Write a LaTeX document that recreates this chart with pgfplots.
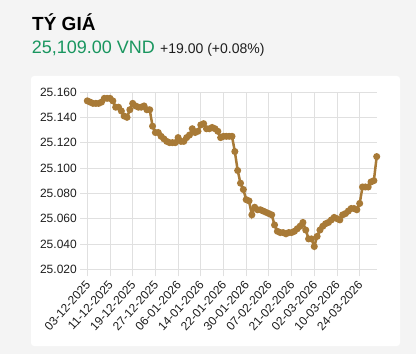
\documentclass[border=0pt]{standalone}
\usepackage{pgfplots}
\pgfplotsset{compat=1.18}
\usepackage{fontspec}
\setmainfont{Liberation Sans}
\definecolor{bgc}{RGB}{244,244,244}
\definecolor{linec}{RGB}{168,122,55}
\definecolor{greenc}{RGB}{25,150,95}
\definecolor{gridc}{RGB}{224,224,224}
\definecolor{txtc}{RGB}{30,30,30}
\begin{document}
\begin{tikzpicture}[x=1bp,y=1bp]
\fill[bgc] (0,0) rectangle (416,354);
\fill[white,rounded corners=3bp] (31,8) rectangle (400,278);
\node[anchor=base west,inner sep=0pt,font=\fontsize{19bp}{22bp}\selectfont\bfseries] at (32,323.3) {TÝ GIÁ};
\node[anchor=base west,inner sep=0pt,text=greenc,font=\fontsize{18bp}{21bp}\selectfont] at (31.7,300.7) {25,109.00 VND};
\node[anchor=base west,inner sep=0pt,text=txtc,font=\fontsize{14bp}{17bp}\selectfont] at (160,300.7) {+19.00 (+0.08\%)};
\begin{axis}[
  at={(87.3bp,84.7bp)}, anchor=south west,
  scale only axis, width=289.4bp, height=177.3bp,
  xmin=0, xmax=102, ymin=25.02, ymax=25.16,
  axis line style={draw=none},
  axis x line*=bottom, axis y line*=left,
  grid=major, grid style={gridc, line width=0.8bp},
  tick align=outside, major tick length=7bp,
  tick style={gridc, line width=0.8bp},
  xtick={0,8,...,96},
  xticklabels={03-12-2025,11-12-2025,19-12-2025,27-12-2025,06-01-2026,14-01-2026,22-01-2026,30-01-2026,07-02-2026,21-02-2026,02-03-2026,10-03-2026,24-03-2026},
  ytick={25.02,25.04,25.06,25.08,25.10,25.12,25.14,25.16},
  yticklabels={25.020,25.040,25.060,25.080,25.100,25.120,25.140,25.160},
  ticklabel style={font=\fontsize{12bp}{14bp}\selectfont, text=txtc},
  xticklabel style={xshift=3bp, yshift=-4bp, rotate=48, anchor=east},
  clip=false,
]
\draw[gridc, line width=0.8bp] (axis cs:0,25.02) -- (axis cs:102,25.02);
\draw[gridc, line width=0.8bp] (axis cs:0,25.02) -- (axis cs:0,25.16);
\addplot[linec, line width=2.5bp, mark=*, mark size=2.2bp, mark options={fill=linec, draw=linec}] table {
x y
0 25.153
1 25.152
2 25.151
3 25.151
4 25.151
5 25.152
6 25.155
7 25.155
8 25.155
9 25.153
10 25.148
11 25.148
12 25.145
13 25.141
14 25.140
15 25.146
16 25.151
17 25.149
18 25.148
19 25.148
20 25.149
21 25.146
22 25.146
23 25.133
24 25.128
25 25.128
26 25.125
27 25.123
28 25.121
29 25.120
30 25.120
31 25.120
32 25.124
33 25.121
34 25.121
35 25.124
36 25.126
37 25.131
38 25.128
39 25.129
40 25.134
41 25.135
42 25.131
43 25.131
44 25.132
45 25.131
46 25.129
47 25.124
48 25.125
49 25.125
50 25.125
51 25.125
52 25.113
53 25.098
54 25.088
55 25.083
56 25.075
57 25.074
58 25.063
59 25.069
60 25.067
61 25.067
62 25.066
63 25.065
64 25.064
65 25.063
66 25.055
67 25.050
68 25.049
69 25.049
70 25.048
71 25.049
72 25.049
73 25.050
74 25.052
75 25.054
76 25.057
77 25.051
78 25.044
79 25.044
80 25.038
81 25.046
82 25.051
83 25.054
84 25.056
85 25.057
86 25.059
87 25.061
88 25.060
89 25.059
90 25.063
91 25.064
92 25.066
93 25.068
94 25.068
95 25.067
96 25.072
97 25.085
98 25.085
99 25.085
100 25.089
101 25.090
102 25.109
};
\end{axis}
\end{tikzpicture}
\end{document}
